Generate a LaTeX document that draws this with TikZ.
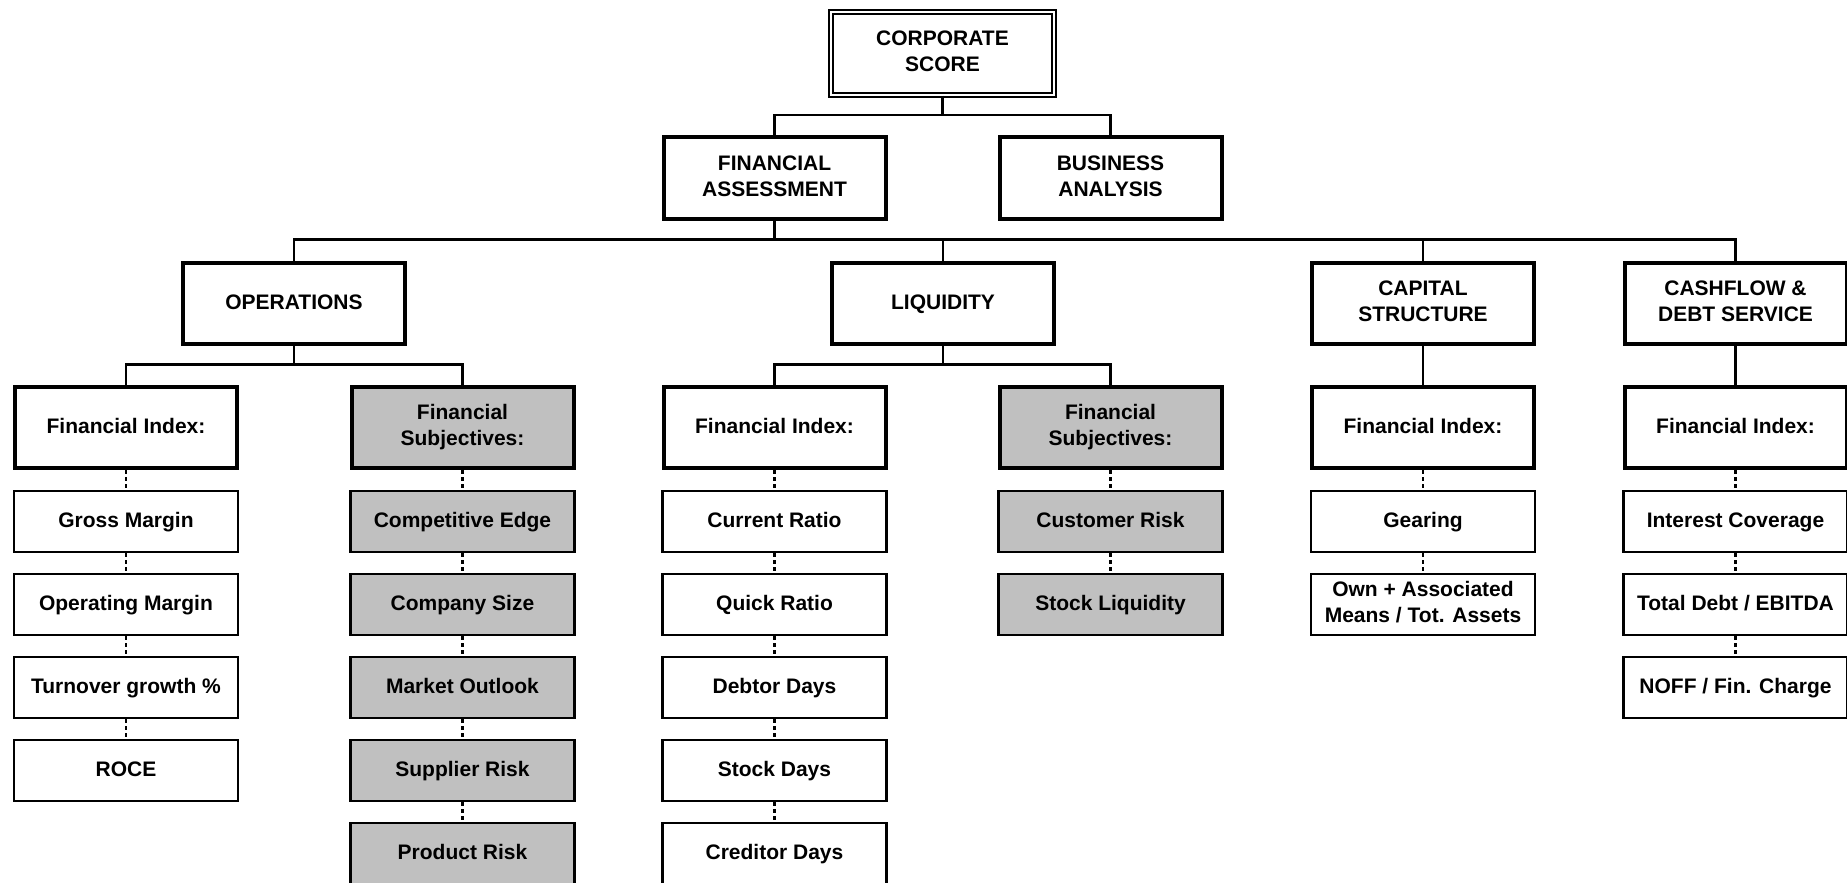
\documentclass[tikz,border=0pt]{standalone}
\usepackage{fontspec}
\setmainfont{Liberation Sans}
\definecolor{subjgrey}{RGB}{192,192,192}
\newcommand{\boxstrut}{\rule[-2.2pt]{0pt}{10.5pt}}
\begin{document}
\begin{tikzpicture}[x=0.5pt,y=-0.5pt,
    every node/.style={font=\fontsize{10.5}{13}\selectfont\bfseries, align=center, inner sep=0pt,
      execute at begin node=\boxstrut, execute at end node=\boxstrut},
    topbox/.style={draw, double, line width=1pt, double distance=1pt, minimum width=111.5pt, minimum height=41.5pt},
    headbox/.style={draw, line width=2pt, minimum width=111pt, minimum height=40.5pt},
    itembox/.style={draw, line width=1.2pt, minimum width=112pt, minimum height=30.5pt},
    greybox/.style={fill=subjgrey},
    link/.style={line width=1.2pt},
    dotlink/.style={line width=1.3pt, dash pattern=on 2pt off 1.5pt}]
      \useasboundingbox (0,0) rectangle (1847,883);
      \draw
        (942.5,53.5) node[topbox] (corp){CORPORATE\\SCORE}
        (774.5,178) node[headbox] (fa){FINANCIAL\\ASSESSMENT}
        (1110.5,178) node[headbox] (ba){BUSINESS\\ANALYSIS}
        (294,303) node[headbox] (ops){OPERATIONS}
        (943,303) node[headbox] (liq){LIQUIDITY}
        (1423,303) node[headbox] (cap){CAPITAL\\STRUCTURE}
        (1735.5,303) node[headbox] (cash){CASHFLOW \&\\DEBT SERVICE}
        (126,427.5) node[headbox] (opsidx){Financial Index:}
        (462.5,427.5) node[headbox, greybox] (opssubj){Financial\\Subjectives:}
        (774.5,427.5) node[headbox] (liqidx){Financial Index:}
        (1110.5,427.5) node[headbox, greybox] (liqsubj){Financial\\Subjectives:}
        (1423,427.5) node[headbox] (capidx){Financial Index:}
        (1735.5,427.5) node[headbox] (cashidx){Financial Index:};
      % operations
      \draw
        (126,521.5) node[itembox] (gross){Gross Margin}
        (126,604.5) node[itembox] (opmargin){Operating Margin}
        (126,687.5) node[itembox] (turnover){Turnover growth \%}
        (126,770.5) node[itembox] (roce){ROCE}
        (462.5,521.5) node[itembox, greybox] (edge){Competitive Edge}
        (462.5,604.5) node[itembox, greybox] (size){Company Size}
        (462.5,687.5) node[itembox, greybox] (outlook){Market Outlook}
        (462.5,770.5) node[itembox, greybox] (supplier){Supplier Risk}
        (462.5,853.5) node[itembox, greybox] (product){Product Risk};
      % liquidity
      \draw
        (774.5,521.5) node[itembox] (current){Current Ratio}
        (774.5,604.5) node[itembox] (quick){Quick Ratio}
        (774.5,687.5) node[itembox] (debtor){Debtor Days}
        (774.5,770.5) node[itembox] (stockdays){Stock Days}
        (774.5,853.5) node[itembox] (creditor){Creditor Days}
        (1110.5,521.5) node[itembox, greybox] (customer){Customer Risk}
        (1110.5,604.5) node[itembox, greybox] (stockliq){Stock Liquidity};
      % capital structure and cashflow
      \draw
        (1423,521.5) node[itembox] (gearing){Gearing}
        (1423,604.5) node[itembox] (ownmeans){Own + Associated\\Means / Tot. Assets}
        (1735.5,521.5) node[itembox] (interest){Interest Coverage}
        (1735.5,604.5) node[itembox] (debt){Total Debt / EBITDA}
        (1735.5,687.5) node[itembox] (noff){NOFF / Fin. Charge};
      \begin{scope}[link]
        \draw (corp.south) -- ++(0,19) -| (fa.north);
        \draw (corp.south) -- ++(0,19) -| (ba.north);
        \draw (fa.south) -- ++(0,19) -| (ops.north);
        \draw (fa.south) -- ++(0,19) -| (liq.north);
        \draw (fa.south) -- ++(0,19) -| (cap.north);
        \draw (fa.south) -- ++(0,19) -| (cash.north);
        \draw (ops.south) -- ++(0,19) -| (opsidx.north);
        \draw (ops.south) -- ++(0,19) -| (opssubj.north);
        \draw (liq.south) -- ++(0,19) -| (liqidx.north);
        \draw (liq.south) -- ++(0,19) -| (liqsubj.north);
        \draw (cap) to (capidx);
        \draw (cash) to (cashidx);
      \end{scope}
      \begin{scope}[dotlink]
        \draw (opsidx) to (gross);
        \draw (gross) to (opmargin);
        \draw (opmargin) to (turnover);
        \draw (turnover) to (roce);
        \draw (opssubj) to (edge);
        \draw (edge) to (size);
        \draw (size) to (outlook);
        \draw (outlook) to (supplier);
        \draw (supplier) to (product);
        \draw (liqidx) to (current);
        \draw (current) to (quick);
        \draw (quick) to (debtor);
        \draw (debtor) to (stockdays);
        \draw (stockdays) to (creditor);
        \draw (liqsubj) to (customer);
        \draw (customer) to (stockliq);
        \draw (capidx) to (gearing);
        \draw (gearing) to (ownmeans);
        \draw (cashidx) to (interest);
        \draw (interest) to (debt);
        \draw (debt) to (noff);
      \end{scope}
    \end{tikzpicture}
\end{document}
